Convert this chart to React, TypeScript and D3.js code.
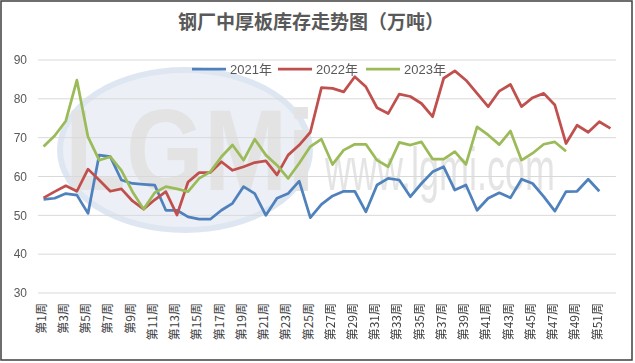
import { useEffect, useRef } from 'react';
import * as d3 from 'd3';

const weeks = d3.range(1, 53).map((w) => `第${w}周`);

const series2021 = [
	54.1, 54.4, 55.6, 55.2, 50.5, 65.5, 65.1, 59.1, 58.2, 58.0, 57.8, 51.3, 51.3,
	49.6, 49.0, 49.0, 51.3, 53.1, 57.4, 55.6, 50.0, 54.4, 55.6, 58.8, 49.4, 52.8,
	55.0, 56.2, 56.2, 50.9, 57.8, 59.5, 59.1, 54.8, 58.2, 61.2, 62.5, 56.5, 57.8,
	51.3, 54.4, 55.8, 54.5, 59.3, 58.2, 54.8, 51.1, 56.1, 56.2, 59.3, 56.2,
];

const series2022 = [
	54.5, 56.1, 57.6, 56.2, 61.9, 59.1, 56.2, 56.8, 53.7, 51.6, 54.0, 56.1, 50.1,
	58.6, 61.0, 61.0, 63.8, 61.6, 62.5, 63.6, 64.0, 60.4, 65.5, 68.1, 71.4, 82.9,
	82.7, 81.8, 85.7, 83.1, 77.7, 76.2, 81.2, 80.6, 78.8, 75.4, 85.3, 87.2, 84.8,
	81.4, 78.0, 82.0, 83.7, 78.0, 80.3, 81.4, 78.4, 68.5, 73.2, 71.4, 74.1, 72.4,
];

const series2023 = [
	67.7, 70.5, 74.3, 84.8, 70.2, 64.2, 65.1, 61.6, 56.1, 51.6, 55.8, 57.4, 56.8,
	56.1, 59.5, 61.2, 65.1, 68.1, 64.2, 69.6, 65.5, 62.9, 59.5, 63.4, 67.7, 69.6,
	63.1, 66.8, 68.3, 68.3, 64.2, 62.5, 68.8, 68.1, 68.9, 64.5, 64.5, 66.4, 63.1,
	72.8, 70.7, 68.2, 71.7, 64.2, 66.0, 68.3, 68.9, 66.5,
];

const yTicks = [30, 40, 50, 60, 70, 80, 90];

const seriesList = [
	{ name: '2021年', values: series2021, color: '#4f81bd' },
	{ name: '2022年', values: series2022, color: '#c0504d' },
	{ name: '2023年', values: series2023, color: '#9bbb59' },
];

export default function App() {
	const svgRef = useRef<SVGSVGElement | null>(null);

	useEffect(() => {
		if (!svgRef.current) return;

		const width = 635;
		const height = 363;
		const margin = { top: 60, right: 19, bottom: 70, left: 38 };
		const font = "'Liberation Sans', 'Noto Sans CJK SC', sans-serif";

		const svg = d3.select(svgRef.current).attr('width', width).attr('height', height);
		svg.selectAll('*').remove();

		svg
			.append('rect')
			.attr('x', 1)
			.attr('y', 1)
			.attr('width', width - 4)
			.attr('height', height - 4)
			.attr('fill', 'white')
			.attr('stroke', '#3f3f3f')
			.attr('stroke-width', 1.5);

		// watermark
		const wm = svg.append('g').attr('opacity', 0.6);
		wm.append('ellipse')
			.attr('cx', 185)
			.attr('cy', 150)
			.attr('rx', 125)
			.attr('ry', 80)
			.attr('fill', '#dfe7f1')
			.attr('stroke', '#c9d7e8')
			.attr('stroke-width', 6);
		wm.append('text')
			.attr('x', 190)
			.attr('y', 190)
			.attr('text-anchor', 'middle')
			.attr('transform', 'translate(190,190) scale(1,1.15) translate(-190,-190)')
			.style('font-family', font)
			.style('font-size', '100px')
			.style('font-weight', 'bold')
			.attr('fill', '#d0d0d0')
			.text('LGMi');
		wm.append('text')
			.attr('x', 440)
			.attr('y', 190)
			.attr('text-anchor', 'middle')
			.attr('transform', 'translate(440,190) scale(1,1.7) translate(-440,-190)')
			.style('font-family', font)
			.style('font-size', '36px')
			.attr('fill', '#d3d3d3')
			.text('www.lgmi.com');

		// X Scale
		const x = d3
			.scaleBand<string>()
			.domain(weeks)
			.range([margin.left, width - margin.right]);

		// Y Scale
		const y = d3
			.scaleLinear()
			.domain([30, 90])
			.range([height - margin.bottom, margin.top]);

		// grid
		svg
			.append('g')
			.selectAll('line')
			.data(yTicks)
			.join('line')
			.attr('x1', margin.left)
			.attr('x2', width - margin.right)
			.attr('y1', (d) => y(d))
			.attr('y2', (d) => y(d))
			.attr('stroke', '#d9d9d9')
			.attr('stroke-width', 1);

		// Y Axis labels
		svg
			.append('g')
			.selectAll('text')
			.data(yTicks)
			.join('text')
			.attr('x', 27)
			.attr('y', (d) => y(d))
			.attr('dy', '0.35em')
			.attr('text-anchor', 'end')
			.style('font-family', font)
			.style('font-size', '12px')
			.attr('fill', '#595959')
			.text((d) => d);

		// X Axis labels
		svg
			.append('g')
			.selectAll('text')
			.data(weeks.filter((_, i) => i % 2 === 0))
			.join('text')
			.attr('transform', (d) => `translate(${x(d)! + x.bandwidth() / 2 - 2},${y(30) + 10}) rotate(-90)`)
			.attr('text-anchor', 'end')
			.attr('dy', '0.35em')
			.style('font-family', "'Noto Sans CJK SC', sans-serif")
			.style('font-size', '12px')
			.attr('fill', '#404040')
			.text((d) => d);

		// Lines
		const line = d3
			.line<number>()
			.x((_, i) => x(weeks[i])! + x.bandwidth() / 2)
			.y((d) => y(d));

		svg
			.append('g')
			.selectAll('path')
			.data(seriesList)
			.join('path')
			.attr('d', (d) => line(d.values))
			.attr('fill', 'none')
			.attr('stroke', (d) => d.color)
			.attr('stroke-width', 2.75)
			.attr('stroke-linejoin', 'round');

		// Legend
		const legendX = [192, 278, 366];
		const legend = svg
			.append('g')
			.selectAll('g')
			.data(seriesList)
			.join('g')
			.attr('transform', (_, i) => `translate(${legendX[i]},69)`);
		legend
			.append('line')
			.attr('x1', 0)
			.attr('x2', 34)
			.attr('stroke', (d) => d.color)
			.attr('stroke-width', 2.75);
		legend
			.append('text')
			.attr('x', 38)
			.attr('dy', '0.35em')
			.style('font-family', font)
			.style('font-size', '13px')
			.attr('fill', '#595959')
			.text((d) => d.name);

		// Title
		svg
			.append('text')
			.attr('x', 311)
			.attr('y', 29)
			.attr('text-anchor', 'middle')
			.style('font-family', "'Noto Sans CJK SC', sans-serif")
			.style('font-size', '19px')
			.style('font-weight', 'bold')
			.attr('fill', '#595959')
			.text('钢厂中厚板库存走势图（万吨）');
	}, []);

	return (
		<div style={{ position: 'absolute', left: 0, top: 0 }}>
			<svg ref={svgRef} style={{ display: 'block' }} />
		</div>
	);
}
